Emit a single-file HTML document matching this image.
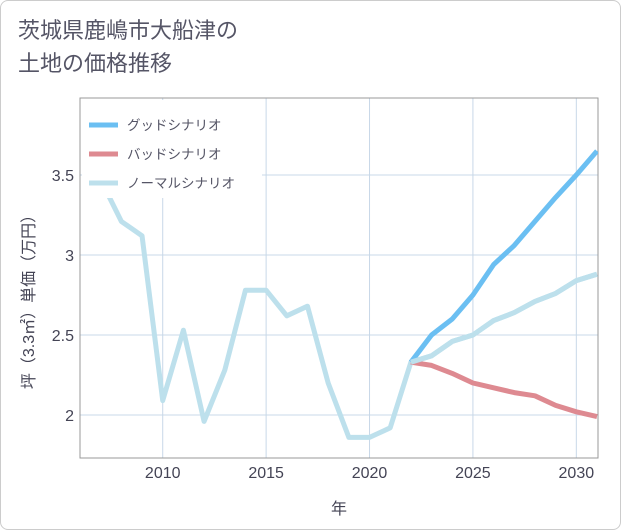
<!DOCTYPE html>
<html><head><meta charset="utf-8"><style>
body{margin:0;background:#fff;font-family:"Liberation Sans","Noto Sans CJK JP",sans-serif;}
#card{position:absolute;left:0;top:0;width:619px;height:528px;border:1px solid #ccc;border-radius:8px;background:#fff;}
#title{position:absolute;left:18px;top:14px;font-size:22px;line-height:33px;color:#556;}
</style></head><body>
<div id="card"></div>
<div id="title">茨城県鹿嶋市大船津の<br>土地の価格推移</div>
<svg id="chart" width="621" height="530" style="position:absolute;left:0;top:0"></svg>
<script>
const years=[2007,2008,2009,2010,2011,2012,2013,2014,2015,2016,2017,2018,2019,2020,2021,2022,2023,2024,2025,2026,2027,2028,2029,2030,2031];
const normal=[3.47,3.21,3.12,2.09,2.53,1.96,2.28,2.78,2.78,2.62,2.68,2.20,1.86,1.86,1.92,2.33,2.37,2.46,2.50,2.59,2.64,2.71,2.76,2.84,2.88];
const futureYears=[2022,2023,2024,2025,2026,2027,2028,2029,2030,2031];
const good=[2.33,2.50,2.60,2.75,2.94,3.06,3.21,3.36,3.50,3.65];
const bad=[2.33,2.31,2.26,2.20,2.17,2.14,2.12,2.06,2.02,1.99];
const xTicks=[2010,2015,2020,2025,2030];
const yTicks=[2,2.5,3,3.5];
const yLabels=["2","2.5","3","3.5"];
const L=80,R=598,T=98,B=458;
const x=v=>80+(v-2006)*(517/25);
const y=v=>415-(v-2)*160;
const svg=document.getElementById('chart');
const NS='http://www.w3.org/2000/svg';
function mk(t,a,p){const e=document.createElementNS(NS,t);for(const k in a)e.setAttribute(k,a[k]);(p||svg).appendChild(e);return e;}
const clip=mk('clipPath',{id:'c'});mk('rect',{x:L,y:T,width:R-L,height:B-T},clip);
xTicks.forEach((v,i)=>{
 const g=mk('line',{x1:x(v),x2:x(v),y1:T,y2:B,stroke:'#c8d8e8','stroke-width':1});
 
 
 const t=mk('text',{x:x(v),y:478,'text-anchor':'middle','font-size':16,fill:'#445'});t.textContent=v;
 
 
});
yTicks.forEach((v,i)=>{
 const g=mk('line',{x1:L,x2:R,y1:y(v),y2:y(v),stroke:'#c8d8e8','stroke-width':1});
 
 
 const t=mk('text',{x:74,y:y(v)+6,'text-anchor':'end','font-size':16,fill:'#445'});t.textContent=yLabels[i];
 
 
});
const fr=mk('rect',{x:L,y:T,width:R-L,height:B-T,fill:'none',stroke:'#999','stroke-width':1});


function line(xs,ys,c,n){const p=mk('polyline',{points:xs.map((v,i)=>x(v)+','+y(ys[i])).join(' '),fill:'none',stroke:c,'stroke-width':5,'stroke-linejoin':'round','clip-path':'url(#c)'});
 
 }
line(years,normal,'#bde0ec','normal-scenario-line');
line(futureYears,good,'#6bbff2','good-scenario-line');
line(futureYears,bad,'#de8a91','bad-scenario-line');
line(years.slice(15),normal.slice(15),'#bde0ec','normal-scenario-future');
const lg=mk('rect',{x:82,y:100,width:180,height:98,fill:'#fff'});


const items=[['グッドシナリオ','#6bbff2'],['バッドシナリオ','#de8a91'],['ノーマルシナリオ','#bde0ec']];
items.forEach((it,i)=>{
 const yy=125+i*29;
 const l=mk('line',{x1:89,x2:118,y1:yy,y2:yy,stroke:it[1],'stroke-width':5});
 
 
 const t=mk('text',{x:127,y:yy+5,'font-size':13.5,fill:'#556'});t.textContent=it[0];
 
 
});
const xt=mk('text',{x:339,y:514,'text-anchor':'middle','font-size':16,fill:'#445'});xt.textContent='年';


const yt=mk('text',{x:0,y:0,'text-anchor':'middle','font-size':16,fill:'#445',transform:'translate(34,298) rotate(-90)'});yt.textContent='坪（3.3㎡）単価（万円）';


</script>
</body></html>
